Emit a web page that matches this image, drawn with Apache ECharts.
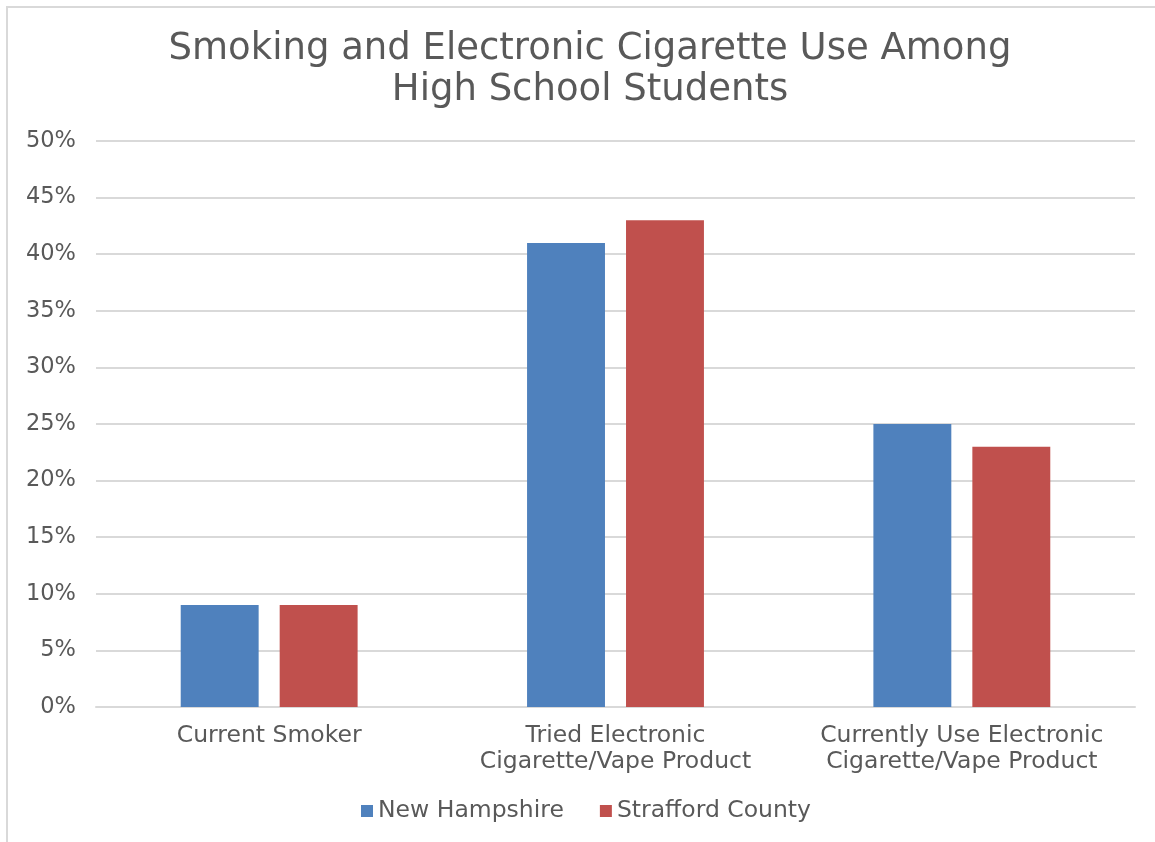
<!DOCTYPE html>
<html><head><meta charset="utf-8">
<script src="https://cdn.jsdelivr.net/npm/echarts@6/dist/echarts.min.js"></script>
<style>html,body{margin:0;padding:0;background:#fff}#c{width:1155px;height:842px}</style>
</head><body><div id="c"></div>
<script>
const titleText = 'Smoking and Electronic Cigarette Use Among\nHigh School Students';
const categories = ['Current Smoker', 'Tried Electronic\nCigarette/Vape Product', 'Currently Use Electronic\nCigarette/Vape Product'];
const seriesNames = ['New Hampshire', 'Strafford County'];
const newHampshire = [9, 41, 25];
const straffordCounty = [9, 43, 23];
const colors = ['#4F81BD', '#C0504D'];
const FONT = '"DejaVu Sans", sans-serif';
const chart = echarts.init(document.getElementById('c'));
chart.setOption({
  animation: false,
  graphic: [{type: 'rect', shape: {x: 7, y: 7, width: 1300, height: 1000}, style: {fill: 'none', stroke: '#d9d9d9', lineWidth: 2}, silent: true}],
  title: {text: titleText, left: 585, textAlign: 'center', top: 24,
    textStyle: {fontFamily: FONT, fontWeight: 'normal', fontSize: 37, color: '#595959', lineHeight: 41}},
  legend: {data: seriesNames, bottom: 19, left: 361, padding: 0, itemWidth: 12, itemHeight: 12, itemGap: 36, icon: 'rect',
    textStyle: {fontFamily: FONT, fontSize: 23.5, color: '#595959'}},
  grid: {left: 96, right: 20, top: 141, bottom: 135, containLabel: false},
  xAxis: {type: 'category', data: categories, axisTick: {show: false},
    axisLine: {lineStyle: {color: '#d9d9d9', width: 2}},
    axisLabel: {interval: 0, hideOverlap: false, fontFamily: FONT, fontSize: 23.5, color: '#595959', lineHeight: 26, margin: 16}},
  yAxis: {type: 'value', min: 0, max: 50, interval: 5,
    axisLabel: {formatter: '{value}%', fontFamily: FONT, fontSize: 22.5, color: '#595959', margin: 20},
    splitLine: {lineStyle: {color: '#d9d9d9', width: 2}}, axisLine: {show: false}, axisTick: {show: false}},
  series: [
    {name: seriesNames[0], type: 'bar', data: newHampshire, itemStyle: {color: colors[0]}, barWidth: '22.5%', barGap: '27%'},
    {name: seriesNames[1], type: 'bar', data: straffordCounty, itemStyle: {color: colors[1]}, barWidth: '22.5%', barGap: '27%'}
  ]
});
</script></body></html>
